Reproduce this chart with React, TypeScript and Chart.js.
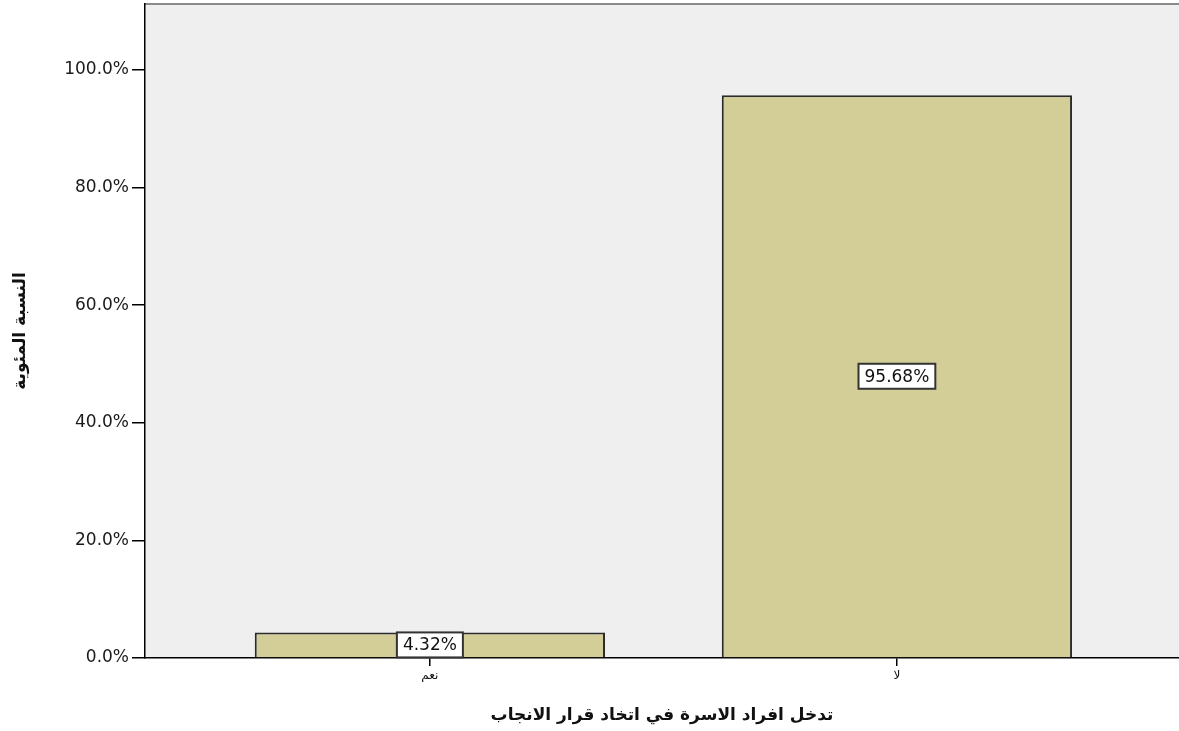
import React, { useEffect, useRef } from "react";
import { Chart, registerables } from "chart.js";

Chart.register(...registerables);

const categories = ["نعم", "لا"];
const percentValues = [4.32, 95.68];
const valueLabels = ["4.32%", "95.68%"];
const yTickValues = [0, 20, 40, 60, 80, 100];
const xTitle = "تدخل افراد الاسرة في اتخاد قرار الانجاب";
const yTitle = "النسبة المئوية";

const FONT = "'DejaVu Sans', 'Liberation Sans', sans-serif";

const bgPlugin = {
  id: "plotBg",
  beforeDraw(chart: any) {
    const { ctx, chartArea } = chart;
    ctx.save();
    ctx.fillStyle = "#efefef";
    ctx.fillRect(chartArea.left, chartArea.top, chartArea.right - chartArea.left, chartArea.bottom - chartArea.top);
    ctx.strokeStyle = "#8a8a8a";
    ctx.lineWidth = 2;
    ctx.beginPath();
    ctx.moveTo(chartArea.left, chartArea.top);
    ctx.lineTo(chartArea.right, chartArea.top);
    ctx.stroke();
    ctx.restore();
  },
};

const labelPlugin = {
  id: "boxLabels",
  afterDatasetsDraw(chart: any) {
    const { ctx } = chart;
    const meta = chart.getDatasetMeta(0);
    ctx.save();
    ctx.font = `17px ${FONT}`;
    ctx.textAlign = "center";
    ctx.textBaseline = "middle";
    meta.data.forEach((bar: any, i: number) => {
      const text = valueLabels[i];
      const cx = bar.x;
      const cy = (bar.y + bar.base) / 2;
      const w = ctx.measureText(text).width + 12;
      const h = 25;
      ctx.fillStyle = "#ffffff";
      ctx.fillRect(cx - w / 2, cy - h / 2, w, h);
      ctx.strokeStyle = "#333333";
      ctx.lineWidth = 2;
      ctx.strokeRect(cx - w / 2, cy - h / 2, w, h);
      ctx.fillStyle = "#111111";
      ctx.fillText(text, cx, cy + 1);
    });
    ctx.restore();
  },
};

export default function App() {
  const canvasRef = useRef<HTMLCanvasElement | null>(null);

  useEffect(() => {
    if (!canvasRef.current) return;
    const chart = new Chart(canvasRef.current, {
      type: "bar",
      data: {
        datasets: [
          {
            data: percentValues.map((v, i) => ({ x: i, y: v })),
            backgroundColor: "#d3ce97",
            borderColor: "#2b2b2b",
            borderWidth: 2,
            barPercentage: 0.75,
            categoryPercentage: 1,
          },
        ],
      },
      options: {
        responsive: false,
        animation: false,
        layout: { padding: { top: 4, right: 0, left: 0, bottom: 0 } },
        plugins: {
          legend: { display: false },
          tooltip: { enabled: false },
        },
        scales: {
          x: {
            type: "linear",
            offset: false,
            min: -0.61,
            max: 1.604,
            afterBuildTicks: (scale: any) => {
              scale.ticks = categories.map((_, i) => ({ value: i }));
            },
            afterFit: (scale: any) => {
              scale.height = 73;
              scale.paddingLeft = 0;
              scale.paddingRight = 0;
            },
            ticks: {
              callback: (v: any) => categories[v] ?? "",
              font: { family: FONT, size: 12 },
              color: "#111",
              padding: 3,
              maxRotation: 0,
            },
            grid: {
              offset: false,
              drawOnChartArea: false,
              drawTicks: true,
              tickLength: 8,
              color: "#000",
              lineWidth: 1.5,
            },
            border: { color: "#000", width: 1.5 },
            title: {
              display: true,
              text: xTitle,
              font: { family: FONT, size: 17, weight: "bold" },
              color: "#111",
              padding: { top: 0, bottom: 5 },
            },
          },
          y: {
            min: 0,
            max: 111.2,
            afterBuildTicks: (scale: any) => {
              scale.ticks = yTickValues.map((v) => ({ value: v }));
            },
            afterFit: (scale: any) => {
              scale.width = 145;
              scale.paddingTop = 0;
              scale.paddingBottom = 0;
            },
            ticks: {
              callback: (v: any) => Number(v).toFixed(1) + "%",
              font: { family: FONT, size: 17 },
              color: "#1a1a1a",
              padding: 3,
            },
            grid: {
              drawOnChartArea: false,
              drawTicks: true,
              tickLength: 13,
              color: "#000",
              lineWidth: 1.5,
            },
            border: { color: "#000", width: 1.5 },
            title: {
              display: true,
              text: yTitle,
              font: { family: FONT, size: 17, weight: "bold" },
              color: "#111",
              padding: { top: 10, bottom: 0 },
            },
          },
        },
      } as any,
      plugins: [bgPlugin, labelPlugin],
    });
    return () => chart.destroy();
  }, []);

  return (
    <div style={{ position: "absolute", left: 0, top: 0, width: 1179, height: 731, background: "#fff" }}>
      <canvas ref={canvasRef} width={1179} height={731} />
    </div>
  );
}
